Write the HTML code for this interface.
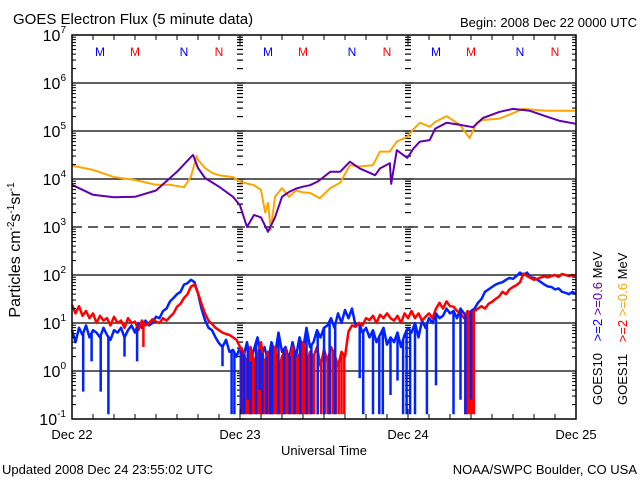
<!DOCTYPE html>
<html><head><meta charset="utf-8"><style>
body{margin:0;background:#fff;}
svg{display:block;font-family:"Liberation Sans",sans-serif;}
</style></head><body>
<svg id="chart" width="640" height="480" viewBox="0 0 640 480">
<rect x="0" y="0" width="640" height="480" fill="#fff"/>
<text x="13" y="24" font-size="15">GOES Electron Flux (5 minute data)</text>
<text x="637" y="27" font-size="13" text-anchor="end">Begin: 2008 Dec 22 0000 UTC</text>
<text x="2" y="474" font-size="13">Updated 2008 Dec 24 23:55:02 UTC</text>
<text x="637" y="474" font-size="13" text-anchor="end">NOAA/SWPC Boulder, CO USA</text>
<text x="324" y="455" font-size="13" text-anchor="middle">Universal Time</text>
<text transform="translate(20,250) rotate(-90)" font-size="16" text-anchor="middle">Particles cm<tspan font-size="10" dy="-6">-2</tspan><tspan dy="6">s</tspan><tspan font-size="10" dy="-6">-1</tspan><tspan dy="6">sr</tspan><tspan font-size="10" dy="-6">-1</tspan></text>
<g id="legend" font-size="13">
<text transform="translate(602,405) rotate(-90)">GOES10 <tspan fill="#0000ff" dx="8">&gt;=2</tspan> <tspan fill="#6000b0">&gt;=0.6</tspan> <tspan fill="#000">MeV</tspan></text>
<text transform="translate(627,405) rotate(-90)">GOES11 <tspan fill="#ff0000" dx="8">&gt;=2</tspan> <tspan fill="#ffa500">&gt;=0.6</tspan> <tspan fill="#000">MeV</tspan></text>
</g>
<g id="grid"></g>
<g id="series"></g>
<g id="axes"></g>
</svg>
<script>
// ---- data (log10 flux) ----
const dayLabels = ["Dec 22","Dec 23","Dec 24","Dec 25"];
const decadeExps = [-1,0,1,2,3,4,5,6,7];
const purpleHours = [0,3,6,9,12,15,17,17.3,18,19,21,23,24,25,26,27,28,29,30,31,32,33,34,35,35.4,36.9,38.3,39.7,41.1,43.3,44,45.4,45.6,46.4,47.9,48.8,49.7,51.1,51.9,53.5,55.4,57.3,58.7,61.1,63,65.4,67.8,69.7,72];
const purpleVals  = [3.88,3.67,3.62,3.63,3.76,4.15,4.46,4.5,4.23,4.02,3.84,3.63,3.45,3.0,3.25,3.2,2.9,3.2,3.63,3.73,3.8,3.84,3.87,3.94,3.98,4.15,4.15,4.36,4.22,4.08,4.22,4.33,3.9,4.6,4.44,4.64,4.78,4.81,5.05,5.17,5.13,5.08,5.27,5.4,5.46,5.42,5.3,5.21,5.15];
const orangeHours = [0,3,6,9,12,14,16,17,17.8,18,19,20,21,23,24,26,27,27.6,28,28.4,29,30,31,32,33,34,35,35.4,36.9,38.3,39.7,41.1,43,44,45.4,46.4,47.9,48.8,49.7,51.1,51.9,53.5,55.4,56.8,57.8,58.7,61.1,63,64.4,67.8,72];
const orangeVals  = [4.28,4.19,4.04,3.98,3.88,3.88,3.83,4.05,4.48,4.4,4.23,4.13,4.08,4.04,3.94,3.87,3.77,3.3,3.5,2.94,3.63,3.81,3.63,3.76,3.72,3.71,3.63,3.6,3.81,3.92,4.29,4.26,4.29,4.57,4.57,4.78,4.88,5.04,5.17,5.09,5.19,5.31,5.13,4.85,5.17,5.23,5.26,5.37,5.46,5.42,5.42];
// half-hourly samples starting at Dec 22 00:00
const lowStepHours = 0.5;
const blueVals = [0.85,0.6,0.9,0.75,0.95,0.7,0.85,0.8,0.7,0.9,0.75,0.65,0.85,0.8,0.9,0.7,0.85,0.95,0.8,1.0,0.9,1.05,0.95,1.0,1.13,
 1.1,1.25,1.3,1.45,1.52,1.6,1.65,1.8,1.83,1.9,1.85,1.62,
 1.3,1.06,0.9,0.85,0.7,0.58,0.5,0.65,0.4,0.44,0.3,0.5,
 0.3,0.6,0.2,0.45,0.7,0.3,0.5,0.2,0.6,0.35,0.8,0.4,0.5,0.25,0.6,0.3,0.7,0.45,0.9,0.5,0.6,0.85,0.7,0.9,
 0.95,1.1,0.9,1.2,1.0,1.27,1.1,1.3,0.95,1.0,0.8,0.9,0.7,0.85,0.6,0.75,0.9,0.55,0.7,0.6,0.8,0.5,0.75,0.9,
 0.8,1.0,0.7,1.05,0.9,1.1,1.0,1.2,1.1,1.15,1.3,1.2,1.25,1.1,1.3,1.2,1.15,1.25,1.3,1.42,1.5,1.65,1.7,1.75,
 1.8,1.83,1.85,1.9,1.94,1.92,1.98,2.05,2.0,2.05,1.95,1.94,1.9,1.85,1.8,1.76,1.75,1.7,1.72,1.65,1.63,1.6,1.65,1.6];
const redVals = [1.38,1.2,1.35,1.15,1.25,1.1,1.2,1.0,1.15,1.05,1.1,0.95,1.13,1.0,1.05,0.9,1.1,1.0,1.03,0.85,1.05,0.95,1.0,1.08,1.03,
 1.0,1.1,1.05,1.13,1.2,1.34,1.4,1.52,1.6,1.76,1.8,1.62,
 1.4,1.2,1.05,0.98,0.9,0.85,0.8,0.77,0.75,0.7,0.65,0.5,
 0.4,0.1,0.5,0.2,0.3,0.6,0.1,0.4,0.2,0.5,0.0,0.3,0.45,0.1,0.5,0.2,0.35,0.6,0.15,0.4,0.3,0.5,0.1,0.45,0.2,0.5,0.35,0.1,0.4,0.3,
 0.82,0.95,0.92,1.0,0.95,1.1,1.06,1.15,1.0,1.17,1.1,1.2,1.1,1.05,1.15,1.0,1.2,1.1,
 1.25,1.1,1.2,1.05,1.13,1.2,1.1,1.3,1.42,1.3,1.45,1.35,1.34,1.25,1.2,1.1,1.25,1.2,1.25,1.3,1.35,1.3,1.4,1.44,
 1.5,1.55,1.65,1.6,1.7,1.75,1.79,1.85,2.03,1.98,1.94,1.9,1.92,1.95,1.97,1.95,1.98,2.0,1.96,2.02,2.0,1.98,2.0,1.98];
const blueDropHours = [1.6,2.8,4.1,5.2,7.5,9.3,21.5,22.8,23.2,24.2,24.6,25.1,25.5,26.3,26.8,27.2,27.8,28.3,28.6,29.5,30.3,31.1,31.8,32.6,33.5,34.2,35.1,36,36.8,37.6,41.1,41.6,43,43.9,44.4,45.5,46.5,47.3,47.8,48.3,49,50.7,52,54.5,55.5,56.2,57];
const blueDropVals  = [-0.43,0.2,-0.43,-0.9,0.3,0.2,0.1,-0.9,-0.9,-0.9,-0.9,-0.6,-0.9,-0.9,-0.4,-0.9,-0.9,-0.9,-0.9,-0.9,-0.9,-0.9,-0.9,-0.9,-0.9,-0.9,-0.9,-0.9,-0.9,-0.9,-0.15,-0.9,-0.9,-0.9,-0.9,-0.5,-0.2,-0.9,-0.9,-0.9,-0.9,-0.9,-0.3,-0.9,-0.6,-0.9,-0.6];
const redDropHours = [24.1,24.35,24.6,24.85,25.1,25.35,25.6,25.85,26.1,26.35,26.6,26.85,27.1,27.35,27.6,27.85,28.1,28.35,28.6,28.85,29.1,29.35,29.6,29.85,30.1,30.35,30.6,30.85,31.1,31.35,31.6,31.85,32.1,32.35,32.6,32.85,33.1,33.35,33.6,33.85,34.1,34.35,34.6,35.1,35.6,36.1,36.5,36.9,37.3,37.7,38.1,38.5,38.9,10.2,56.2,56.5,56.8,57.1,57.4];
const redDropVals  = [-0.9,-0.9,-0.9,-0.9,-0.9,-0.9,-0.9,-0.9,-0.9,-0.9,-0.9,-0.9,-0.9,-0.9,-0.9,-0.9,-0.9,-0.9,-0.9,-0.9,-0.9,-0.9,-0.9,-0.9,-0.9,-0.9,-0.9,-0.9,-0.9,-0.9,-0.9,-0.9,-0.9,-0.9,-0.9,-0.9,-0.9,-0.9,-0.9,-0.9,-0.9,-0.9,-0.9,-0.9,-0.9,-0.9,-0.9,-0.9,-0.9,-0.9,-0.9,-0.9,-0.9,0.5,-0.9,-0.9,-0.9,-0.9,-0.9];
const markerLabels = ["M","M","N","N"];
const markerColors = ["#0000ff","#ff0000","#0000ff","#ff0000"];
const markerHourOffsets = [4,9,16,21];

// ---- axes functions ----
const X0=72, X1=576, Y0=35, Y1=419;
const xs = h => X0 + h*(X1-X0)/72;
const ys = v => Y0 + (7-v)*(Y1-Y0)/8;
const NS="http://www.w3.org/2000/svg";
function mk(tag, attrs, parent){const e=document.createElementNS(NS,tag);for(const k in attrs)e.setAttribute(k,attrs[k]);parent.appendChild(e);return e;}
const grid=document.getElementById('grid'), series=document.getElementById('series'), axes=document.getElementById('axes');
const blueHours = blueVals.map((v,i)=>i*lowStepHours);
const redHours = redVals.map((v,i)=>i*lowStepHours);

decadeExps.forEach(e=>{
  const y=ys(e);
  if(e>-1 && e<7){
    const l=mk('line',{x1:X0,x2:X1,y1:y,y2:y,stroke:'#000','stroke-width':1.3},grid);
    if(e===3) l.setAttribute('stroke-dasharray','10,6');
    
    
  }
  const t=mk('text',{x:66,y:y+6,'font-size':16,'text-anchor':'end'},axes);
  
  
  t.textContent='10';
  const s=mk('tspan',{'font-size':10,dy:-8},t); s.textContent=String(e);
});
for(let e=-1;e<7;e++){
  for(let m=1;m<10;m++){
    const y=ys(e+Math.log10(m));
    const len = m===1?8:4;
    mk('line',{x1:X0,x2:X0+len,y1:y,y2:y,stroke:'#000','stroke-width':1},axes);
    mk('line',{x1:X1-len,x2:X1,y1:y,y2:y,stroke:'#000','stroke-width':1},axes);
    [24,48].forEach(h=>{const x=xs(h);mk('line',{x1:x-len/2-1,x2:x+len/2+1,y1:y,y2:y,stroke:'#000','stroke-width':1.2},grid);});
  }
}
for(let h=0;h<=72;h+=3){
  const len = h%24===0?10:5;
  mk('line',{x1:xs(h),x2:xs(h),y1:Y1,y2:Y1-len,stroke:'#000','stroke-width':1},axes);
  mk('line',{x1:xs(h),x2:xs(h),y1:Y0,y2:Y0+len,stroke:'#000','stroke-width':1},axes);
}
dayLabels.forEach((d,i)=>{
  const t=mk('text',{x:xs(i*24),y:439,'font-size':13,'text-anchor':'middle'},axes);
  
  
  t.textContent=d;
});
for(let d=0;d<3;d++){
  markerLabels.forEach((m,i)=>{
    const t=mk('text',{x:xs(d*24+markerHourOffsets[i]),y:56,'font-size':12,'text-anchor':'middle',fill:markerColors[i]},axes);
    
    
    t.textContent=m;
  });
}
const fr=mk('rect',{x:X0,y:Y0,width:X1-X0,height:Y1-Y0,fill:'none',stroke:'#000','stroke-width':1.5},axes);



function line(hours, vals, color, w, name){
  const pts=hours.map((h,i)=>xs(h).toFixed(1)+','+ys(Math.max(-0.9,vals[i])).toFixed(1)).join(' ');
  const p=mk('polyline',{points:pts,fill:'none',stroke:color,'stroke-width':w,'stroke-linejoin':'round'},series);
  
  
}
function interp(hours, vals, h){
  for(let i=1;i<hours.length;i++){ if(h<=hours[i]){const t=(h-hours[i-1])/(hours[i]-hours[i-1]);return vals[i-1]+t*(vals[i]-vals[i-1]);}}
  return vals[vals.length-1];
}
function drops(dh, dv, bh, bv, color, name){
  dh.forEach((h,i)=>{
    const l=mk('line',{x1:xs(h),x2:xs(h),y1:ys(interp(bh,bv,h)),y2:ys(dv[i]),stroke:color,'stroke-width':2.5},series);
    
    
  });
}
line(blueHours, blueVals, '#0022ff', 2.5, 'goes10-ge2-line');
line(redHours, redVals, '#ff0000', 2.5, 'goes11-ge2-line');
drops(redDropHours, redDropVals, redHours, redVals, '#ff0000', 'goes11-ge2-dropout');
drops(blueDropHours, blueDropVals, blueHours, blueVals, '#0022ff', 'goes10-ge2-dropout');
line(orangeHours, orangeVals, '#ffa500', 2, 'goes11-ge06-line');
line(purpleHours, purpleVals, '#6000b0', 2, 'goes10-ge06-line');
</script>
</body></html>
